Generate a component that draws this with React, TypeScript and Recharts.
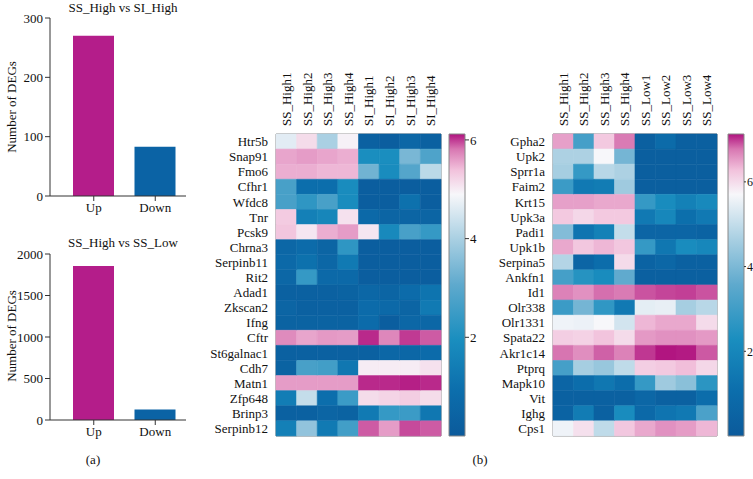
import { BarChart, Bar, XAxis, YAxis, Cell, ReferenceArea } from "recharts";

// (a) number of DEGs
const degGroups = ["Up", "Down"];
const siHighCounts = [270, 83];
const ssLowCounts = [1855, 127];
const siHighTicks = [0, 100, 200, 300];
const ssLowTicks = [0, 500, 1000, 1500, 2000];
const barColors = ["#b41d8a", "#0b63a5"];

// (b) left heatmap: SS_High vs SI_High
const hm1Samples = ["SS_High1", "SS_High2", "SS_High3", "SS_High4", "SI_High1", "SI_High2", "SI_High3", "SI_High4"];
const hm1Genes = ["Htr5b", "Snap91", "Fmo6", "Cfhr1", "Wfdc8", "Tnr", "Pcsk9", "Chrna3", "Serpinb11", "Rit2", "Adad1", "Zkscan2", "Ifng", "Cftr", "St6galnac1", "Cdh7", "Matn1", "Zfp648", "Brinp3", "Serpinb12"];
const hm1Values = [
  [4.65, 5.15, 4.0, 4.95, 0.3, 0.2, 0.6, 0.3],
  [5.55, 5.6, 5.55, 5.5, 1.95, 1.95, 3.4, 2.8],
  [5.5, 5.5, 5.45, 5.45, 3.3, 1.9, 2.9, 4.2],
  [2.7, 0.9, 0.9, 1.9, 0.2, 0.2, 0.2, 0.2],
  [2.7, 2.3, 2.7, 1.9, 0.2, 0.2, 1.0, 0.2],
  [5.3, 1.5, 1.7, 5.1, 0.7, 0.5, 0.5, 0.5],
  [5.35, 5.05, 5.5, 5.6, 5.05, 1.8, 2.7, 2.4],
  [0.6, 0.8, 0.5, 2.3, 0.2, 0.2, 0.2, 0.2],
  [0.7, 1.0, 0.6, 1.3, 0.2, 0.2, 0.2, 0.2],
  [0.6, 2.4, 0.7, 0.7, 0.2, 0.2, 0.2, 0.2],
  [0.3, 0.3, 0.3, 0.4, 0.6, 0.5, 0.8, 1.1],
  [0.5, 0.3, 0.3, 0.3, 0.8, 0.7, 0.5, 1.3],
  [0.4, 0.4, 0.4, 0.4, 0.8, 0.2, 0.6, 0.6],
  [5.7, 5.55, 5.62, 5.6, 6.05, 5.72, 6.0, 5.9],
  [0.3, 0.3, 0.3, 0.3, 0.3, 0.6, 0.6, 0.8],
  [0.4, 2.7, 2.6, 1.2, 5.0, 5.0, 5.0, 5.1],
  [5.6, 5.6, 5.6, 5.6, 6.05, 6.05, 6.08, 6.05],
  [1.4, 4.3, 0.9, 2.5, 5.15, 5.22, 5.28, 5.15],
  [0.3, 0.3, 0.5, 0.4, 1.3, 2.4, 2.5, 1.2],
  [1.5, 3.7, 1.3, 2.6, 5.9, 5.6, 5.95, 5.9],
];
const hm1Max = 6.12;
const hm1Ticks = [0, 2, 4, 6];

// (b) right heatmap: SS_High vs SS_Low
const hm2Samples = ["SS_High1", "SS_High2", "SS_High3", "SS_High4", "SS_Low1", "SS_Low2", "SS_Low3", "SS_Low4"];
const hm2Genes = ["Gpha2", "Upk2", "Sprr1a", "Faim2", "Krt15", "Upk3a", "Padi1", "Upk1b", "Serpina5", "Ankfn1", "Id1", "Olr338", "Olr1331", "Spata22", "Akr1c14", "Ptprq", "Mapk10", "Vit", "Ighg", "Cps1"];
const hm2Values = [
  [6.5, 3.1, 6.2, 6.75, 0.3, 0.9, 0.3, 0.3],
  [4.7, 4.7, 5.7, 3.9, 0.25, 0.25, 0.25, 0.25],
  [4.6, 2.8, 4.85, 4.7, 0.25, 0.25, 0.25, 0.25],
  [2.9, 1.5, 1.6, 4.5, 0.25, 0.25, 0.25, 0.25],
  [6.5, 6.5, 6.45, 6.45, 2.8, 2.2, 1.8, 2.1],
  [6.2, 6.05, 6.2, 6.2, 1.5, 2.0, 1.1, 1.5],
  [4.1, 1.3, 1.8, 5.0, 0.6, 0.6, 0.6, 0.5],
  [6.45, 6.22, 6.35, 6.22, 2.8, 1.4, 2.2, 2.0],
  [4.8, 0.6, 1.0, 6.0, 0.5, 0.7, 0.4, 0.4],
  [3.1, 2.5, 2.2, 3.6, 0.3, 0.3, 0.3, 0.3],
  [6.7, 6.6, 6.8, 6.75, 6.9, 6.95, 6.97, 6.9],
  [2.9, 3.9, 2.7, 1.5, 5.45, 5.5, 4.6, 4.85],
  [5.6, 5.55, 5.7, 5.2, 6.35, 6.45, 6.45, 6.0],
  [6.15, 6.1, 6.25, 6.0, 6.55, 6.6, 6.6, 6.55],
  [6.78, 6.62, 6.85, 6.7, 7.0, 7.12, 7.1, 6.88],
  [3.1, 4.6, 4.4, 4.95, 6.15, 6.2, 6.3, 6.05],
  [0.6, 1.0, 1.4, 1.0, 2.8, 4.5, 4.2, 2.6],
  [0.35, 0.35, 0.35, 0.35, 0.7, 0.4, 0.4, 1.0],
  [0.5, 1.6, 0.4, 2.2, 0.8, 1.3, 1.5, 3.2],
  [5.6, 5.95, 4.95, 6.22, 6.45, 6.6, 6.53, 6.35],
];
const hm2Max = 7.13;
const hm2Ticks = [0, 2, 4, 6];

const STOPS: [number, string][] = [
  [0, "#0b5a9b"],
  [0.15, "#0c6eac"],
  [0.32, "#1a8ebf"],
  [0.5, "#5ea9cd"],
  [0.65, "#a8cfe2"],
  [0.8, "#f7f7fa"],
  [0.88, "#f2c2dc"],
  [0.95, "#d877b2"],
  [1, "#b0127f"],
];

const FONT = '"Liberation Serif", "Times New Roman", serif';
const TEXT = "#111";

function hexRgb(h: string) {
  return [1, 3, 5].map((i) => parseInt(h.slice(i, i + 2), 16));
}

function heat(v: number, max: number) {
  const t = Math.max(0, Math.min(1, v / max));
  for (let i = 1; i < STOPS.length; i++) {
    const [t1, c1] = STOPS[i];
    if (t <= t1) {
      const [t0, c0] = STOPS[i - 1];
      const f = (t - t0) / (t1 - t0);
      const a = hexRgb(c0);
      const b = hexRgb(c1);
      const m = a.map((x, k) => Math.round(x + (b[k] - x) * f));
      return `rgb(${m[0]},${m[1]},${m[2]})`;
    }
  }
  return STOPS[STOPS.length - 1][1];
}

function DegBar({ top, height, counts, ticks }: { top: number; height: number; counts: number[]; ticks: number[] }) {
  const data = degGroups.map((g, i) => ({ group: g, count: counts[i] }));
  return (
    <div style={{ position: "absolute", left: 0, top }}>
      <BarChart width={188} height={height} data={data} margin={{ top: 18, right: 2, bottom: 0, left: 0 }}>
        <XAxis
          dataKey="group"
          padding={{ left: 13, right: 0 }}
          stroke="#333"
          tickSize={5}
          tick={{ fontSize: 13, fill: TEXT, fontFamily: FONT }}
        />
        <YAxis
          domain={[0, ticks[ticks.length - 1]]}
          ticks={ticks}
          width={50}
          stroke="#333"
          tickSize={5}
          tick={{ fontSize: 13, fill: TEXT, fontFamily: FONT }}
        />
        <Bar dataKey="count" barSize={41} isAnimationActive={false}>
          {data.map((d, i) => (
            <Cell key={d.group} fill={barColors[i]} />
          ))}
        </Bar>
      </BarChart>
    </div>
  );
}

function SampleTick(props: any) {
  const { x, y, payload, samples } = props;
  return (
    <text
      x={0}
      y={0}
      transform={`translate(${x},${y}) rotate(-90)`}
      dy="0.35em"
      textAnchor="start"
      fontSize={13}
      fontFamily={FONT}
      fill={TEXT}
    >
      {samples[Math.floor(payload.value)]}
    </text>
  );
}

function Heatmap({
  genes,
  samples,
  values,
  max,
  left,
  labelWidth,
  plotWidth,
}: {
  genes: string[];
  samples: string[];
  values: number[][];
  max: number;
  left: number;
  labelWidth: number;
  plotWidth: number;
}) {
  const rows = genes.map((g, i) => {
    const r: any = { gene: g };
    samples.forEach((s, j) => (r[s] = values[i][j]));
    return r;
  });
  return (
    <div style={{ position: "absolute", left, top: 60 }}>
      <BarChart
        width={labelWidth + plotWidth + 2}
        height={381}
        data={rows}
        layout="vertical"
        margin={{ top: 14, right: 2, bottom: 5, left: 0 }}
        barCategoryGap={0}
        barGap={0}
      >
        <XAxis
          type="number"
          orientation="top"
          domain={[0, samples.length]}
          ticks={samples.map((_, j) => j + 0.5)}
          height={60}
          axisLine={false}
          tickLine={false}
          interval={0}
          tick={(p: any) => <SampleTick {...p} samples={samples} />}
        />
        <YAxis
          type="category"
          dataKey="gene"
          width={labelWidth}
          axisLine={false}
          tickLine={false}
          interval={0}
          tick={{ fontSize: 13, fill: TEXT, fontFamily: FONT }}
        />
        {samples.map((s) => (
          <Bar key={s} dataKey={() => 1} stackId="h" isAnimationActive={false}>
            {rows.map((r) => {
              const c = heat(r[s], max);
              return <Cell key={r.gene} fill={c} stroke={c} strokeWidth={0.6} />;
            })}
          </Bar>
        ))}
        <ReferenceArea x1={0} x2={samples.length} fill="#fff" fillOpacity={0} stroke="#7d7d7d" strokeWidth={1} />
      </BarChart>
    </div>
  );
}

function ColorBar({
  id,
  max,
  ticks,
  left,
  axisWidth,
  tickSize,
  fontSize,
}: {
  id: string;
  max: number;
  ticks: number[];
  left: number;
  axisWidth: number;
  tickSize: number;
  fontSize: number;
}) {
  return (
    <div style={{ position: "absolute", left, top: 60 }}>
      <BarChart
        width={9 + 16 + axisWidth}
        height={381}
        data={[{ name: "scale", top: max }]}
        margin={{ top: 74, right: 0, bottom: 5, left: 9 }}
        barCategoryGap={0}
      >
        <defs>
          <linearGradient id={id} x1="0" y1="1" x2="0" y2="0">
            {STOPS.map(([o, c]) => (
              <stop key={o} offset={o} stopColor={c} />
            ))}
          </linearGradient>
        </defs>
        <XAxis dataKey="name" hide />
        <YAxis
          orientation="right"
          domain={[0, max]}
          ticks={ticks}
          width={axisWidth}
          axisLine={false}
          tickSize={tickSize}
          tickMargin={1}
          stroke="#333"
          tick={{ fontSize, fill: TEXT, fontFamily: FONT }}
        />
        <Bar dataKey="top" fill={`url(#${id})`} stroke="#888" isAnimationActive={false} />
      </BarChart>
    </div>
  );
}

const txt: any = { position: "absolute", fontSize: 13, color: TEXT, whiteSpace: "nowrap", lineHeight: "16px" };

export default function App() {
  return (
    <div
      style={{
        position: "absolute",
        left: 0,
        top: 0,
        width: 753,
        height: 479,
        background: "#fff",
        overflow: "hidden",
        fontFamily: FONT,
      }}
    >
      <DegBar top={0} height={226} counts={siHighCounts} ticks={siHighTicks} />
      <DegBar top={236} height={214} counts={ssLowCounts} ticks={ssLowTicks} />
      <div style={{ ...txt, left: 123, top: 8, transform: "translate(-50%,-50%)" }}>SS_High vs SI_High</div>
      <div style={{ ...txt, left: 123, top: 243, transform: "translate(-50%,-50%)" }}>SS_High vs SS_Low</div>
      <div style={{ ...txt, left: 12, top: 107, transform: "translate(-50%,-50%) rotate(-90deg)" }}>Number of DEGs</div>
      <div style={{ ...txt, left: 12, top: 336, transform: "translate(-50%,-50%) rotate(-90deg)" }}>Number of DEGs</div>
      <div style={{ ...txt, left: 93, top: 460, transform: "translate(-50%,-50%)" }}>(a)</div>

      <Heatmap genes={hm1Genes} samples={hm1Samples} values={hm1Values} max={hm1Max} left={180} labelWidth={96} plotWidth={165} />
      <ColorBar id="cb1" max={hm1Max} ticks={hm1Ticks} left={440} axisWidth={24} tickSize={4} fontSize={13} />
      <Heatmap genes={hm2Genes} samples={hm2Samples} values={hm2Values} max={hm2Max} left={480} labelWidth={73} plotWidth={164} />
      <ColorBar id="cb2" max={hm2Max} ticks={hm2Ticks} left={719} axisWidth={9} tickSize={2} fontSize={12} />
      <div style={{ ...txt, left: 480, top: 460, transform: "translate(-50%,-50%)" }}>(b)</div>
    </div>
  );
}
